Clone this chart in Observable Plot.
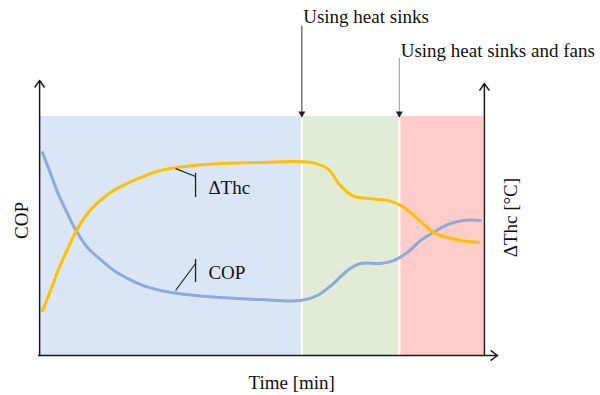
<!DOCTYPE html>
<html>
<head>
<meta charset="utf-8">
<script src="https://cdn.jsdelivr.net/npm/d3@7"></script>
<script src="https://cdn.jsdelivr.net/npm/@observablehq/plot@0.6"></script>
<style>
  html, body { margin: 0; padding: 0; background: #fff; }
  #chart svg { display: block; }
</style>
</head>
<body>
<div id="chart"></div>
<script>
// ---- data (time in arbitrary minutes 0–100, values in arbitrary normalized units 0–100) ----
const phaseNames = ["No cooling", "Using heat sinks", "Using heat sinks and fans"];
const phaseStart = [0, 59, 81];
const phaseEnd = [59, 81, 100];

const copTime  = [0.45, 2.26, 4.06, 6.09, 7.9, 10.6, 13.5, 16.9, 21.0, 23.7, 27.1, 32.7, 40.6, 49.7, 58.7, 62.5, 66.1, 69.3, 72.2, 76.7, 79.7, 82.8, 85.8, 88.7, 91.9, 95.5, 99.3];
const copValue = [84.9, 76.2, 67.4, 59.4, 52.7, 45.2, 40.2, 35.1, 31.0, 28.9, 27.2, 25.5, 24.3, 23.4, 23.0, 25.1, 30.1, 35.6, 38.5, 38.5, 39.7, 43.1, 48.1, 51.5, 54.8, 56.5, 56.5];

const dthcTime  = [0.45, 2.26, 4.06, 6.09, 7.9, 10.6, 13.5, 16.9, 21.0, 23.7, 27.1, 32.7, 40.6, 49.7, 60.9, 64.8, 67.7, 70.4, 73.8, 78.3, 81.3, 85.1, 88.7, 91.9, 96.4, 98.9];
const dthcValue = [18.8, 27.2, 36.0, 44.4, 51.5, 59.4, 64.9, 69.5, 73.2, 75.3, 77.4, 79.1, 80.3, 80.8, 80.8, 78.2, 71.1, 66.9, 65.7, 64.9, 62.8, 57.3, 51.5, 49.4, 47.7, 47.3];

const seriesLabels = ["ΔThc", "COP"];
const xAxisTitle = "Time [min]";
const yLeftTitle = "COP";
const yRightTitle = "ΔThc [°C]";
const eventLabels = ["Using heat sinks", "Using heat sinks and fans"];

// ---- build tables ----
const FONT = "Liberation Serif, Times New Roman, serif";
const phases = phaseNames.map((name, i) => ({name, x1: phaseStart[i], x2: phaseEnd[i]}));
const cop = copTime.map((t, i) => ({t, v: copValue[i]}));
const dthc = dthcTime.map((t, i) => ({t, v: dthcValue[i]}));
const phaseFill = ["#DAE6F5", "#E2EBD6", "#FFCCC9"];

const events = [
  {label: eventLabels[0], x: phaseStart[1], yTop: 138, yText: 141.5, stroke: "#333"},
  {label: eventLabels[1], x: phaseStart[2], yTop: 124.5, yText: 127.5, stroke: "#999"}
];

const chart = Plot.plot({
  width: 600,
  height: 395,
  marginLeft: 40,
  marginRight: 117,
  marginTop: 116,
  marginBottom: 40,
  x: {domain: [0, 100], axis: null},
  y: {domain: [0, 100], axis: null},
  style: {fontFamily: FONT, background: "#fff", overflow: "visible"},
  marks: [
    Plot.rect(phases, {x1: "x1", x2: "x2", y1: 0, y2: 100, fill: (d) => phaseFill[phaseNames.indexOf(d.name)]}),
    Plot.ruleX(phaseStart.slice(1), {y1: 0, y2: 100, stroke: "#fff", strokeWidth: 2}),
    // curves
    Plot.line(cop, {x: "t", y: "v", stroke: "#8EA9DB", strokeWidth: 3, curve: "catmull-rom"}),
    Plot.line(dthc, {x: "t", y: "v", stroke: "#FFC000", strokeWidth: 3, curve: "catmull-rom"}),
    // leader lines for series labels
    Plot.link([{x1: 30.5, y1: 78.2, x2: 35.0, y2: 74.9}, {x1: 30.5, y1: 27.2, x2: 35.0, y2: 38.5}],
      {x1: "x1", y1: "y1", x2: "x2", y2: "y2", stroke: "#222", strokeWidth: 1.2}),
    Plot.ruleX([35.0], {y1: 66.1, y2: 76.2, stroke: "#222", strokeWidth: 1.3}),
    Plot.ruleX([35.0], {y1: 30.5, y2: 40.2, stroke: "#222", strokeWidth: 1.3}),
    Plot.text([{label: seriesLabels[0], y: 70.3}, {label: seriesLabels[1], y: 34.7}],
      {x: 37.9, y: "y", text: "label", textAnchor: "start", fontSize: 19, fontFamily: FONT, fill: "#111"}),
    // axes with arrows
    Plot.arrow([
      {x1: -0.2, y1: 0, x2: -0.2, y2: 115.1},
      {x1: 100.2, y1: 0, x2: 100.2, y2: 113.8},
      {x1: -0.4, y1: 0, x2: 103.2, y2: 0}
    ], {x1: "x1", y1: "y1", x2: "x2", y2: "y2", stroke: "#1a1a1a", strokeWidth: 1.5, headLength: 8, headAngle: 70}),
    // event arrows
    Plot.link(events, {x1: "x", x2: "x", y1: "yTop", y2: 102, stroke: "stroke", strokeWidth: 1}),
    Plot.dot(events, {x: "x", y: 101.2, symbol: "triangle", r: 2.6, rotate: 180, fill: "#222", stroke: null}),
    Plot.text(events, {x: (d) => d.x + 0.3, y: "yText", text: "label", textAnchor: "start", fontSize: 19, fontFamily: FONT, fill: "#111"}),
    // axis titles
    Plot.text([xAxisTitle], {x: 56.7, y: -11.3, text: (d) => d, fontSize: 19, fontFamily: FONT, fill: "#111"}),
    Plot.text([yLeftTitle], {x: -4.1, y: 56.5, text: (d) => d, rotate: -90, fontSize: 19, fontFamily: FONT, fill: "#111"}),
    Plot.text([yRightTitle], {x: 106.2, y: 57.7, text: (d) => d, rotate: -90, fontSize: 19, fontFamily: FONT, fill: "#111"})
  ]
});

document.getElementById("chart").appendChild(chart);
</script>
</body>
</html>
